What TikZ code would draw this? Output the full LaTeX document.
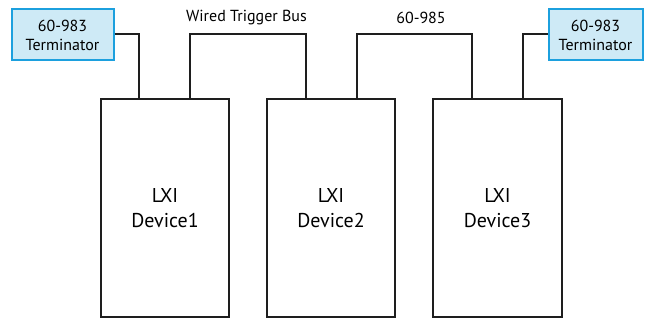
\documentclass[tikz,border=0pt]{standalone}
\usepackage{fontspec}
\setmainfont{PT Sans}
\definecolor{termfill}{RGB}{206,234,246}
\definecolor{termdraw}{RGB}{28,160,222}
\definecolor{wirecol}{RGB}{30,30,30}
\begin{document}
\begin{tikzpicture}[x=1pt,y=-1pt,
  device/.style={draw=wirecol,line width=1.2pt,fill=white,inner sep=0pt,font=\fontsize{20}{25}\selectfont,align=center},
  term/.style={draw=termdraw,line width=2pt,fill=termfill,inner sep=0pt,font=\fontsize{16}{19}\selectfont,align=center},
  wire/.style={draw=wirecol,line width=2pt},
  lbl/.style={font=\fontsize{16}{19}\selectfont,inner sep=0pt}]
\useasboundingbox (0,0) rectangle (646,320);
% devices
\node[device,minimum width=128pt,minimum height=218pt] (d1) at (165,208) {LXI\\Device1};
\node[device,minimum width=128pt,minimum height=218pt] (d2) at (331,208) {LXI\\Device2};
\node[device,minimum width=129pt,minimum height=218pt] (d3) at (497.5,208) {LXI\\Device3};
% terminators
\node[term,minimum width=102pt,minimum height=51pt] (t1) at (62.5,35) {60-983\\Terminator};
\node[term,minimum width=94pt,minimum height=51pt] (t2) at (595.5,35) {60-983\\Terminator};
% wire coordinates
\coordinate (a1) at (139,99);
\coordinate (a2) at (190,99);
\coordinate (b1) at (306,99);
\coordinate (b2) at (357,99);
\coordinate (c1) at (472,99);
\coordinate (c2) at (523,99);
\draw[wire] (t1.east |- 0,34) -| (a1);
\draw[wire] (a2) |- (306,34) -- (b1);
\draw[wire] (b2) |- (472,34) -- (c1);
\draw[wire] (c2) |- (t2.west |- 0,34);
% labels
\node[lbl] (l1) at (246.5,18) {Wired Trigger Bus};
\node[lbl] (l2) at (421,18) {60-985};
\end{tikzpicture}
\end{document}
